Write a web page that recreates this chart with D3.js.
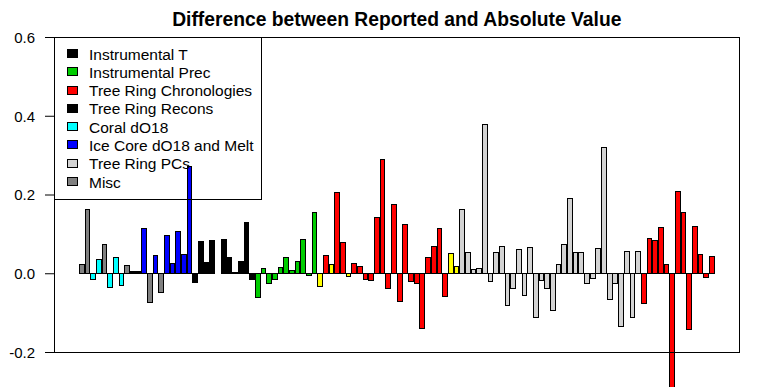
<!DOCTYPE html>
<html>
<head>
<meta charset="utf-8">
<script src="https://cdn.jsdelivr.net/npm/d3@7"></script>
<style>
  html, body { margin: 0; padding: 0; background: #ffffff; }
  svg { display: block; font-family: "Liberation Sans", Arial, sans-serif; }
</style>
</head>
<body>
<svg id="chart" width="757" height="387"></svg>
<script>
// ---- data ----
const categories = ["Misc","Misc","Coral","Coral","Misc","Coral","Coral","Coral","Misc","InstT",
  "InstT","Ice","Misc","Ice","Misc","Ice","Ice","Ice","Ice","Ice",
  "Recon","Recon","Recon","Recon","Recon","Recon","Recon","Recon","Recon","Recon",
  "Recon","Prec","Prec","Prec","Prec","Prec","Prec","Prec","Prec","Prec",
  "Prec","Prec","Other","Chron","Other","Chron","Chron","Other","Chron","Chron",
  "Chron","Chron","Chron","Chron","Chron","Chron","Chron","Chron","Chron","Chron",
  "Chron","Chron","Chron","Chron","Chron","Other","Other","PC","PC","PC",
  "PC","PC","PC","PC","PC","PC","PC","PC","PC","PC",
  "PC","PC","PC","PC","PC","PC","PC","PC","PC","PC",
  "PC","PC","PC","PC","PC","PC","PC","PC","PC","Chron",
  "Chron","Chron","Chron","Chron","Chron","Chron","Chron","Chron","Chron","Chron",
  "Chron","Chron"];
const values = [0.023,0.161,-0.015,0.034,0.072,-0.036,0.041,-0.031,0.020,0.004,
  0.004,0.113,-0.074,0.044,-0.048,0.097,0.025,0.105,0.048,0.270,
  -0.024,0.080,0.027,0.082,0,0.085,0.039,0.003,0.031,0.130,
  -0.016,-0.061,0.013,-0.026,-0.016,0.015,0.041,0.008,0.031,0.086,
  -0.005,0.155,-0.033,0.044,0.023,0.204,0.077,-0.008,0.026,0.016,
  -0.015,-0.018,0.141,0.290,-0.038,0.174,-0.071,0.125,-0.020,-0.025,
  -0.140,0.039,0.069,0.113,-0.058,0.051,0.018,0.161,0.053,0.010,
  0.013,0.377,-0.020,0.053,0.069,-0.081,-0.038,0.061,-0.056,0.066,
  -0.112,-0.018,-0.038,-0.094,0.023,0.074,0.191,0.053,0.053,-0.025,
  -0.013,0.062,0.320,-0.066,-0.025,-0.135,0.056,-0.112,0.056,-0.076,
  0.089,0.084,0.117,0.023,-0.300,0.208,0.155,-0.142,0.119,0.048,
  -0.010,0.043];
const categoryKeys   = ["InstT","Prec","Chron","Recon","Coral","Ice","PC","Misc","Other"];
const categoryColors = ["#000000","#00cd00","#ff0000","#000000","#00ffff","#0000ff","#d3d3d3","#808080","#ffff00"];
const legendLabels = ["Instrumental T","Instrumental Prec","Tree Ring Chronologies","Tree Ring Recons",
  "Coral dO18","Ice Core dO18 and Melt","Tree Ring PCs","Misc"];
const legendColors = ["#000000","#00cd00","#ff0000","#000000","#00ffff","#0000ff","#d3d3d3","#808080"];
const yTicks = [-0.2, 0.0, 0.2, 0.4, 0.6];
const title = "Difference between Reported and Absolute Value";

// ---- layout ----
const svg = d3.select("#chart");
const pLeft = 54, pRight = 739.6, pTop = 37, pBottom = 352;

// R barplot geometry: width 1, space 0.2
const n = values.length;
const wl = 0.2, wr = 1.2 * n;
const span = wr - wl;
const x = d3.scaleLinear().domain([wl - 0.04 * span, wr + 0.04 * span]).range([pLeft, pRight]);
const y = d3.scaleLinear().domain([-0.2, 0.6]).range([pBottom, pTop]);
const color = d3.scaleOrdinal().domain(categoryKeys).range(categoryColors);

// bars
const data = values.map((v, i) => ({ v, c: categories[i], i }));
svg.append("g")
  .attr("shape-rendering", "crispEdges")
  .selectAll("rect")
  .data(data)
  .join("rect")
  .attr("x", d => x(0.2 + 1.2 * d.i))
  .attr("width", d => x(1.2 + 1.2 * d.i) - x(0.2 + 1.2 * d.i))
  .attr("y", d => y(Math.max(0, d.v)))
  .attr("height", d => Math.abs(y(d.v) - y(0)))
  .attr("fill", d => color(d.c))
  .attr("stroke", "#000")
  .attr("stroke-width", 1);

// box
svg.append("rect")
  .attr("shape-rendering", "crispEdges")
  .attr("x", pLeft).attr("y", pTop)
  .attr("width", pRight - pLeft).attr("height", pBottom - pTop)
  .attr("fill", "none").attr("stroke", "#000").attr("stroke-width", 1);

// y axis
const yAxis = d3.axisLeft(y).tickValues(yTicks).tickSize(9).tickPadding(10)
  .tickFormat(d => d.toFixed(1));
const ga = svg.append("g").attr("transform", `translate(${pLeft},0)`).call(yAxis);
ga.select(".domain").attr("stroke", "#000");
ga.selectAll(".tick line").attr("stroke", "#000");
ga.selectAll(".tick text")
  .attr("fill", "#000")
  .style("font-size", "15px")
  .style("font-family", "'Liberation Sans', Arial, sans-serif")
  .attr("dy", "0.36em");

// title
svg.append("text")
  .attr("x", (pLeft + pRight) / 2)
  .attr("y", 26)
  .attr("text-anchor", "middle")
  .style("font-size", "19.3px")
  .style("font-weight", "bold")
  .text(title);

// legend (transparent background, drawn over the bars)
const lg = svg.append("g");
lg.append("rect")
  .attr("shape-rendering", "crispEdges")
  .attr("x", pLeft).attr("y", pTop)
  .attr("width", 261 - pLeft).attr("height", 199 - pTop)
  .attr("fill", "none").attr("stroke", "#000");
const rowY = d3.scaleLinear().domain([0, legendLabels.length - 1]).range([54, 182]);
legendLabels.forEach((lab, i) => {
  lg.append("rect")
    .attr("shape-rendering", "crispEdges")
    .attr("x", 67).attr("y", rowY(i) - 4.5)
    .attr("width", 10).attr("height", 8)
    .attr("fill", legendColors[i]).attr("stroke", "#000");
  lg.append("text")
    .attr("x", 89).attr("y", rowY(i))
    .attr("dy", "0.36em")
    .style("font-size", "15.5px")
    .text(lab);
});
</script>
</body>
</html>
